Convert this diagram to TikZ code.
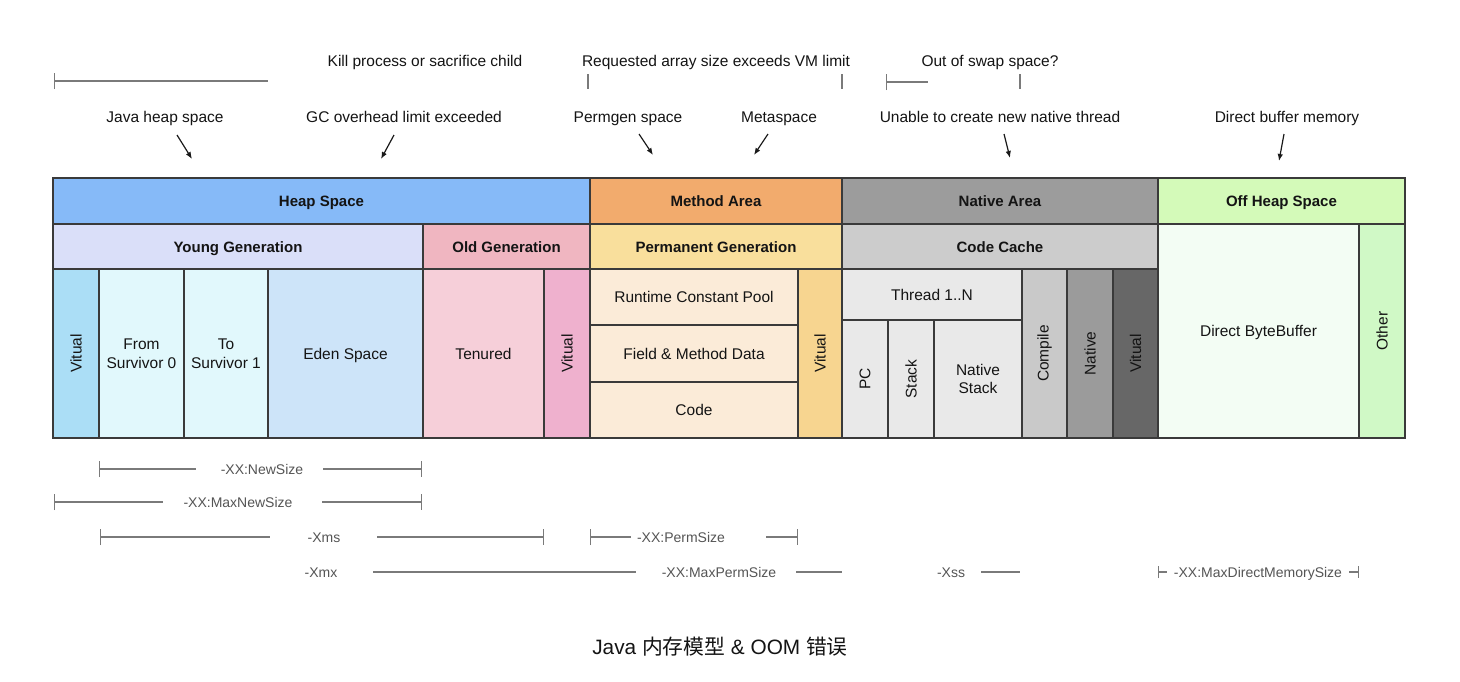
\documentclass[tikz,border=0pt]{standalone}
\usepackage{fontspec}
\setmainfont{Liberation Sans}
\newfontfamily\cjk{Noto Sans CJK SC}
\usetikzlibrary{arrows.meta}
\newcommand\fsz[2]{\fontsize{#1}{#2}\selectfont}
\definecolor{edge}{HTML}{3A3A3A}
\definecolor{dimc}{HTML}{7A7A7A}
\definecolor{dimtext}{HTML}{555555}
\definecolor{cHeap}{HTML}{86BAF8}
\definecolor{cMethod}{HTML}{F2AB6D}
\definecolor{cNative}{HTML}{9C9C9C}
\definecolor{cOff}{HTML}{D4FAB9}
\definecolor{cYoung}{HTML}{DADFF9}
\definecolor{cOld}{HTML}{F0B6C1}
\definecolor{cPerm}{HTML}{F9DF9C}
\definecolor{cCache}{HTML}{CCCCCC}
\definecolor{cVy}{HTML}{ABDEF6}
\definecolor{cSurv}{HTML}{E1F8FC}
\definecolor{cEden}{HTML}{CDE4F9}
\definecolor{cTen}{HTML}{F6CFD9}
\definecolor{cVo}{HTML}{EFB1CE}
\definecolor{cPc}{HTML}{FBEBD8}
\definecolor{cVp}{HTML}{F7D590}
\definecolor{cThr}{HTML}{E9E9E9}
\definecolor{cComp}{HTML}{C9C9C9}
\definecolor{cNat}{HTML}{9B9B9B}
\definecolor{cVn}{HTML}{676767}
\definecolor{cDbb}{HTML}{F3FDF4}
\definecolor{cOther}{HTML}{D0F9C6}
\newcommand\cellat[7]{%
  \node[cell,#6,minimum width={#4pt-#2pt},minimum height={#5pt-#3pt}] (#1) at (#2,#3) {#7};}
\newcommand\rot[1]{\rotatebox{90}{#1}}
\begin{document}
\begin{tikzpicture}[x=1pt,y=-1pt,
  cell/.style={draw=edge,line width=1.4pt,inner sep=0pt,outer sep=0pt,anchor=north west,align=center,font=\fsz{15.5}{18.5},text=black!92},
  one/.style={text height=11pt,text depth=0pt},
  hdr/.style={one,font=\bfseries\fsz{15}{18}},
  lbl/.style={one,font=\fsz{15.5}{18},inner sep=0pt,text=black!92},
  dim/.style={text height=10pt,text depth=0pt,font=\fsz{14}{17},inner sep=0pt,text=dimtext},
  dimline/.style={draw=dimc,line width=1.3pt},
  barl/.style={dimline,{Bar[width=16pt,line width=1.3pt]}-},
  barr/.style={dimline,-{Bar[width=16pt,line width=1.3pt]}},
  sbar/.style={dimline,{Bar[width=12pt,line width=1.3pt]}-},
  sbarr/.style={dimline,-{Bar[width=12pt,line width=1.3pt]}},
  arr/.style={draw=black!90,line width=1.2pt,-{Latex[length=7pt,width=5.5pt]}}]
\fill[white] (0,0) rectangle (1460,681);
\useasboundingbox (0,0) rectangle (1460,681);

% ---------- top labels ----------
\node[lbl] (kill) at (425,61) {Kill process or sacrifice child};
\node[lbl] (req) at (716,61) {Requested array size exceeds VM limit};
\node[lbl] (swap) at (990,61) {Out of swap space?};
\coordinate (k1) at (54,81); \coordinate (k2) at (268,81);
\draw[barl] (k1) -- (k2);
\coordinate (r1a) at (588,74); \coordinate (r1b) at (588,89);
\coordinate (r2a) at (842,74); \coordinate (r2b) at (842,89);
\draw[dimline] (r1a) -- (r1b);
\draw[dimline] (r2a) -- (r2b);
\coordinate (s1) at (886,82); \coordinate (s2) at (928,82);
\draw[barl] (s1) -- (s2);
\coordinate (s3a) at (1020,74); \coordinate (s3b) at (1020,89);
\draw[dimline] (s3a) -- (s3b);

\node[lbl] (jhs) at (165,117) {Java heap space};
\node[lbl] (gco) at (404,117) {GC overhead limit exceeded};
\node[lbl] (pgs) at (628,117) {Permgen space};
\node[lbl] (mts) at (779,117) {Metaspace};
\node[lbl] (unt) at (1000,117) {Unable to create new native thread};
\node[lbl] (dbm) at (1287,117) {Direct buffer memory};
\coordinate (a1s) at (177,135); \coordinate (a1e) at (192,159);
\coordinate (a2s) at (394,135); \coordinate (a2e) at (381,159);
\coordinate (a3s) at (639,134); \coordinate (a3e) at (653,155);
\coordinate (a4s) at (768,134); \coordinate (a4e) at (754,155);
\coordinate (a5s) at (1004,134); \coordinate (a5e) at (1010,158);
\coordinate (a6s) at (1284,134); \coordinate (a6e) at (1279,161);
\draw[arr] (a1s) -- (a1e);
\draw[arr] (a2s) -- (a2e);
\draw[arr] (a3s) -- (a3e);
\draw[arr] (a4s) -- (a4e);
\draw[arr] (a5s) -- (a5e);
\draw[arr] (a6s) -- (a6e);

% ---------- table ----------
\cellat{heap}{53}{178}{590}{224}{hdr,fill=cHeap}{Heap Space}
\cellat{method}{590}{178}{842}{224}{hdr,fill=cMethod}{Method Area}
\cellat{native}{842}{178}{1158}{224}{hdr,fill=cNative}{Native Area}
\cellat{offheap}{1158}{178}{1405}{224}{hdr,fill=cOff}{Off Heap Space}

\cellat{young}{53}{224}{423}{269}{hdr,fill=cYoung}{Young Generation}
\cellat{old}{423}{224}{590}{269}{hdr,fill=cOld}{Old Generation}
\cellat{perm}{590}{224}{842}{269}{hdr,fill=cPerm}{Permanent Generation}
\cellat{cache}{842}{224}{1158}{269}{hdr,fill=cCache}{Code Cache}
\cellat{dbb}{1158}{224}{1359}{438}{one,fill=cDbb}{Direct ByteBuffer}
\cellat{other}{1359}{224}{1405}{438}{fill=cOther}{\rot{Other}}

\cellat{vy}{53}{269}{99}{438}{fill=cVy}{\rot{Vitual}}
\cellat{from}{99}{269}{184}{438}{fill=cSurv}{From\\Survivor 0}
\cellat{to}{184}{269}{268}{438}{fill=cSurv}{To\\Survivor 1}
\cellat{eden}{268}{269}{423}{438}{one,fill=cEden}{Eden Space}
\cellat{ten}{423}{269}{544}{438}{one,fill=cTen}{Tenured}
\cellat{vo}{544}{269}{590}{438}{fill=cVo}{\rot{Vitual}}
\cellat{rcp}{590}{269}{798}{325}{one,fill=cPc}{Runtime Constant Pool}
\cellat{fmd}{590}{325}{798}{382}{one,fill=cPc}{Field \& Method Data}
\cellat{code}{590}{382}{798}{438}{one,fill=cPc}{Code}
\cellat{vp}{798}{269}{842}{438}{fill=cVp}{\rot{Vitual}}
\cellat{thr}{842}{269}{1022}{320}{one,fill=cThr}{Thread 1..N}
\cellat{pc}{842}{320}{888}{438}{fill=cThr}{\rot{PC}}
\cellat{stk}{888}{320}{934}{438}{fill=cThr}{\rot{Stack}}
\cellat{nstk}{934}{320}{1022}{438}{fill=cThr}{Native\\Stack}
\cellat{comp}{1022}{269}{1067}{438}{fill=cComp}{\rot{Compile}}
\cellat{nat}{1067}{269}{1113}{438}{fill=cNat}{\rot{Native}}
\cellat{vn}{1113}{269}{1158}{438}{fill=cVn}{\rot{Vitual}}

% ---------- dimension lines ----------
\node[dim] (ns) at (262,469) {-XX:NewSize};
\coordinate (ns1) at (99,469); \coordinate (ns2) at (196,469);
\coordinate (ns3) at (323,469); \coordinate (ns4) at (422,469);
\draw[barl] (ns1) -- (ns2);
\draw[barr] (ns3) -- (ns4);

\node[dim] (mns) at (238,502) {-XX:MaxNewSize};
\coordinate (mn1) at (54,502); \coordinate (mn2) at (163,502);
\coordinate (mn3) at (322,502); \coordinate (mn4) at (422,502);
\draw[barl] (mn1) -- (mn2);
\draw[barr] (mn3) -- (mn4);

\node[dim] (xms) at (324,537) {-Xms};
\coordinate (xs1) at (100,537); \coordinate (xs2) at (270,537);
\coordinate (xs3) at (377,537); \coordinate (xs4) at (544,537);
\draw[barl] (xs1) -- (xs2);
\draw[barr] (xs3) -- (xs4);

\node[dim] (pms) at (681,537) {-XX:PermSize};
\coordinate (ps1) at (590,537); \coordinate (ps2) at (631,537);
\coordinate (ps3) at (766,537); \coordinate (ps4) at (798,537);
\draw[barl] (ps1) -- (ps2);
\draw[barr] (ps3) -- (ps4);

\node[dim] (xmx) at (321,572) {-Xmx};
\coordinate (xx1) at (373,572); \coordinate (xx2) at (636,572);
\draw[dimline] (xx1) -- (xx2);

\node[dim] (mps) at (719,572) {-XX:MaxPermSize};
\coordinate (mp1) at (796,572); \coordinate (mp2) at (842,572);
\draw[dimline] (mp1) -- (mp2);

\node[dim] (xss) at (951,572) {-Xss};
\coordinate (xq1) at (981,572); \coordinate (xq2) at (1020,572);
\draw[dimline] (xq1) -- (xq2);

\node[dim] (mdm) at (1258,572) {-XX:MaxDirectMemorySize};
\coordinate (md1) at (1158,572); \coordinate (md2) at (1167,572);
\coordinate (md3) at (1349,572); \coordinate (md4) at (1359,572);
\draw[sbar] (md1) -- (md2);
\draw[sbarr] (md3) -- (md4);

% ---------- caption ----------
\node[inner sep=0pt,font=\fsz{20.8}{24},text=black!92] (cap) at (720,647) {Java {\cjk 内存模型} \& OOM {\cjk 错误}};
\end{tikzpicture}
\end{document}
